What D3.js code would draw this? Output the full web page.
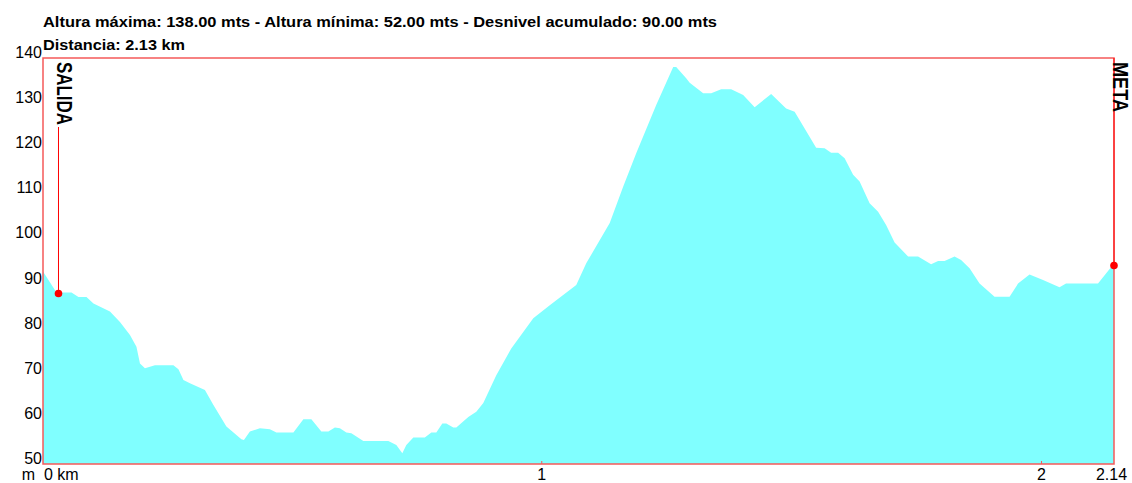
<!DOCTYPE html>
<html>
<head>
<meta charset="utf-8">
<script src="https://cdn.jsdelivr.net/npm/d3@7"></script>
<style>
  body { margin: 0; background: #fff; }
  svg text { font-family: "Liberation Sans", Arial, sans-serif; fill: #000; }
  .title { font-weight: bold; font-size: 15px; }
  .tick-label { font-size: 16px; }
  .marker-label { font-family: "Liberation Sans Narrow", "Liberation Sans", Arial, sans-serif; font-weight: bold; font-size: 22px; }
</style>
</head>
<body>
<svg id="chart" width="1132" height="483"></svg>
<script>
// profile: distance (km) and altitude (m)
const distances = [0.000, 0.029, 0.043, 0.059, 0.073, 0.089, 0.103, 0.136, 0.156, 0.176,
  0.189, 0.196, 0.206, 0.226, 0.263, 0.273, 0.283, 0.296, 0.326, 0.343,
  0.369, 0.399, 0.404, 0.416, 0.436, 0.456, 0.469, 0.503, 0.523, 0.539,
  0.559, 0.573, 0.586, 0.596, 0.609, 0.619, 0.643, 0.693, 0.709, 0.721,
  0.729, 0.743, 0.766, 0.779, 0.789, 0.801, 0.809, 0.823, 0.829, 0.853,
  0.869, 0.883, 0.909, 0.939, 0.983, 1.016, 1.069, 1.089, 1.136, 1.163,
  1.189, 1.229, 1.263, 1.269, 1.289, 1.296, 1.323, 1.339, 1.359, 1.379,
  1.403, 1.426, 1.459, 1.489, 1.506, 1.549, 1.566, 1.579, 1.593, 1.606,
  1.623, 1.636, 1.656, 1.673, 1.689, 1.706, 1.733, 1.753, 1.779, 1.793,
  1.806, 1.826, 1.839, 1.856, 1.876, 1.906, 1.936, 1.953, 1.976, 2.003,
  2.036, 2.049, 2.113, 2.139, 2.145];
const altitudes = [93.0, 88.0, 88.0, 88.0, 87.0, 87.0, 85.6, 83.8, 81.5, 78.6,
  76.0, 72.3, 71.2, 71.9, 71.9, 71.0, 68.6, 67.9, 66.4, 63.1,
  58.3, 55.5, 55.3, 57.2, 57.9, 57.7, 57.0, 57.0, 59.9, 59.9,
  57.2, 57.2, 58.1, 57.9, 57.0, 56.8, 55.1, 55.1, 54.2, 52.4,
  54.2, 55.9, 55.9, 57.0, 57.0, 59.0, 59.0, 58.1, 58.1, 60.4,
  61.6, 63.5, 69.7, 75.6, 82.3, 85.2, 89.7, 94.5, 103.4, 111.5,
  118.9, 129.6, 138.0, 138.0, 135.5, 134.5, 132.2, 132.2, 133.1, 133.1,
  131.8, 129.1, 132.0, 128.8, 128.1, 120.1, 120.0, 119.0, 119.0, 117.8,
  114.1, 112.6, 107.8, 105.9, 103.0, 99.1, 96.0, 96.0, 94.3, 95.0,
  95.0, 96.0, 95.2, 93.4, 90.0, 87.1, 87.1, 90.0, 92.0, 90.8,
  89.2, 90.0, 90.0, 93.6, 94.0];

const yTicks = [50, 60, 70, 80, 90, 100, 110, 120, 130, 140];
const xTicks = [1, 2];
const xEndLabel = 2.14;

// start / finish markers
const markerNames = ['SALIDA', 'META'];
const markerKm = [0.033, 2.145];
const markerAlt = [87.8, 94.0];

const titleLines = [
  'Altura máxima: 138.00 mts - Altura mínima: 52.00 mts - Desnivel acumulado: 90.00 mts',
  'Distancia: 2.13 km'
];

const svg = d3.select('#chart');
const margin = {top: 58, right: 18, bottom: 19, left: 43};
const width = +svg.attr('width');
const height = +svg.attr('height');

const x = d3.scaleLinear().domain([0, 2.145]).range([42, width - margin.right]);
const y = d3.scaleLinear().domain([50, 140]).range([height - margin.bottom, margin.top]);

const profile = distances.map((d, i) => ({km: d, alt: altitudes[i]}));

// area
const area = d3.area()
  .x(d => x(d.km))
  .y0(y(50))
  .y1(d => y(d.alt));

svg.append('clipPath').attr('id', 'plot-clip')
  .append('rect')
  .attr('x', margin.left).attr('y', margin.top)
  .attr('width', width - margin.right - margin.left)
  .attr('height', height - margin.bottom - margin.top);

svg.append('path')
  .datum(profile)
  .attr('clip-path', 'url(#plot-clip)')
  .attr('fill', '#80ffff')
  .attr('d', area);

// frame
svg.append('rect')
  .attr('x', margin.left).attr('y', margin.top)
  .attr('width', width - margin.right - margin.left)
  .attr('height', height - margin.bottom - margin.top)
  .attr('fill', 'none')
  .attr('stroke', '#f55a5a')
  .attr('stroke-width', 1.5);

// x ticks
svg.selectAll('.xtick')
  .data(xTicks)
  .enter().append('line')
  .attr('x1', d => x(d)).attr('x2', d => x(d))
  .attr('y1', y(50)).attr('y2', y(50) - 3)
  .attr('stroke', '#f55a5a');

// y labels
svg.selectAll('.ylabel')
  .data(yTicks)
  .enter().append('text')
  .attr('class', 'tick-label')
  .attr('x', margin.left - 1)
  .attr('y', d => y(d))
  .attr('text-anchor', 'end')
  .text(d => d);

// x labels
const xLabelY = height - 3;
svg.selectAll('.xlabel')
  .data(xTicks.concat([xEndLabel]))
  .enter().append('text')
  .attr('class', 'tick-label')
  .attr('x', d => x(d))
  .attr('y', xLabelY)
  .attr('text-anchor', 'middle')
  .text(d => d);

svg.append('text').attr('class', 'tick-label')
  .attr('x', x(0) - 7).attr('y', xLabelY)
  .attr('text-anchor', 'end').text('m');
svg.append('text').attr('class', 'tick-label')
  .attr('x', x(0) + 2).attr('y', xLabelY)
  .text('0 km');

// title (the original face is wider, so stretch to its measured length)
const titleLen = [674, 142];
svg.selectAll('.title')
  .data(titleLines)
  .enter().append('text')
  .attr('class', 'title')
  .attr('x', margin.left)
  .attr('y', (d, i) => 27 + i * 23)
  .attr('textLength', (d, i) => titleLen[i])
  .attr('lengthAdjust', 'spacingAndGlyphs')
  .text(d => d);

// markers
const markerLen = [63, 50];
markerNames.forEach((name, i) => {
  const mx = x(markerKm[i]);
  const textTop = margin.top + 4;
  svg.append('line')
    .attr('x1', mx).attr('x2', mx)
    .attr('y1', i === 0 ? textTop + markerLen[i] + 2 : margin.top)
    .attr('y2', y(markerAlt[i]))
    .attr('stroke', '#ff0000');
  svg.append('circle')
    .attr('cx', mx).attr('cy', y(markerAlt[i]))
    .attr('r', 3.8)
    .attr('fill', '#ff0000');
  svg.append('text')
    .attr('class', 'marker-label')
    .attr('transform', 'translate(' + (mx - 1) + ',' + textTop + ') rotate(90)')
    .attr('textLength', markerLen[i])
    .attr('lengthAdjust', 'spacingAndGlyphs')
    .text(name);
});
</script>
</body>
</html>
